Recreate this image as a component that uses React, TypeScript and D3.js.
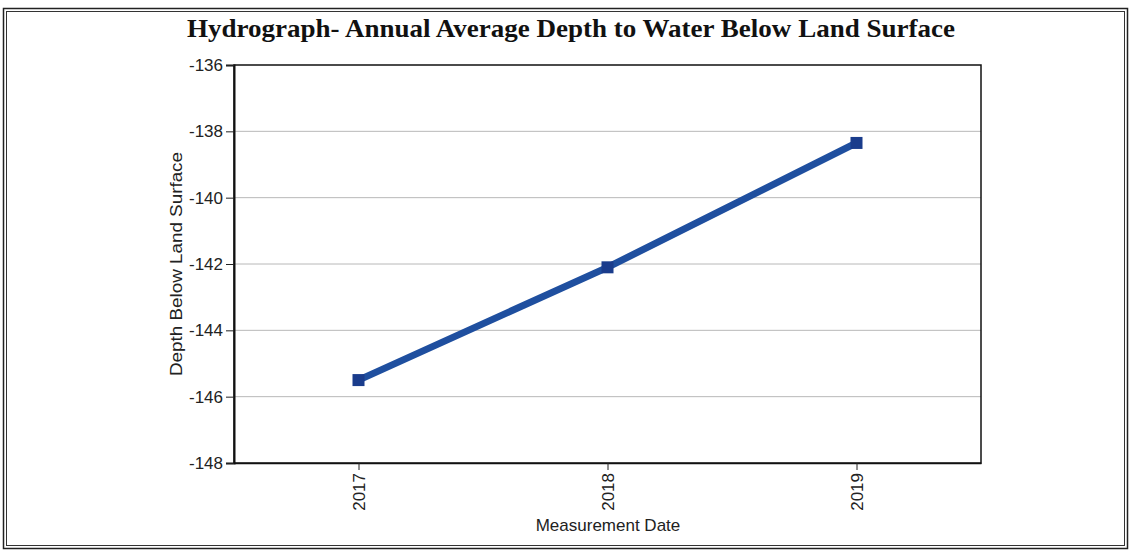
import React, { useEffect, useRef } from "react";
import * as d3 from "d3";

// Annual averages
const years = ["2017", "2018", "2019"];
const depths = [-145.5, -142.1, -138.35];
const yTicks = [-136, -138, -140, -142, -144, -146, -148];

const App = () => {
  const svgRef = useRef<SVGSVGElement>(null);

  useEffect(() => {
    const width = 1130;
    const height = 552;
    const margin = { top: 65, right: 149, bottom: 89, left: 234 };
    const innerW = width - margin.left - margin.right;
    const innerH = height - margin.top - margin.bottom;
    const sans = "'Liberation Sans', Arial, sans-serif";

    const svg = d3.select(svgRef.current);
    svg.selectAll("*").remove();
    svg.attr("width", width).attr("height", height).style("background", "#fff");

    // Scanned double frame
    svg
      .append("rect")
      .attr("x", 3.5)
      .attr("y", 8.5)
      .attr("width", width - 6)
      .attr("height", height - 12)
      .attr("fill", "none")
      .attr("stroke", "#222")
      .attr("stroke-width", 1.5);
    svg
      .append("rect")
      .attr("x", 6.5)
      .attr("y", 11.5)
      .attr("width", width - 12)
      .attr("height", height - 18)
      .attr("fill", "none")
      .attr("stroke", "#333")
      .attr("stroke-width", 1);

    // Title
    svg
      .append("text")
      .attr("x", 571)
      .attr("y", 37)
      .attr("text-anchor", "middle")
      .attr("textLength", 768)
      .attr("lengthAdjust", "spacingAndGlyphs")
      .style("font-family", "'Liberation Serif', 'Times New Roman', serif")
      .style("font-weight", "bold")
      .style("font-size", "25px")
      .style("fill", "#111")
      .text("Hydrograph- Annual Average Depth to Water Below Land Surface");

    const g = svg
      .append("g")
      .attr("transform", `translate(${margin.left},${margin.top})`);

    const x = d3.scalePoint().domain(years).range([0, innerW]).padding(0.5);
    const y = d3.scaleLinear().domain([-148, -136]).range([innerH, 0]);

    // Grid lines
    yTicks.forEach((t) => {
      if (t === -136 || t === -148) return;
      g.append("line")
        .attr("x1", 0)
        .attr("x2", innerW)
        .attr("y1", y(t))
        .attr("y2", y(t))
        .attr("stroke", "#b8b8b8")
        .attr("stroke-width", 1);
    });

    // Plot frame
    g.append("rect")
      .attr("x", 0)
      .attr("y", 0)
      .attr("width", innerW)
      .attr("height", innerH)
      .attr("fill", "none")
      .attr("stroke", "#111")
      .attr("stroke-width", 1.5);

    // Y axis
    const yAxis = g
      .append("g")
      .call(
        d3
          .axisLeft(y)
          .tickValues(yTicks)
          .tickSize(8)
          .tickPadding(3)
          .tickFormat((d) => `${d}`)
      );
    yAxis.select(".domain").attr("stroke", "#111").attr("stroke-width", 2);
    yAxis.selectAll(".tick line").attr("stroke", "#222");
    yAxis
      .selectAll("text")
      .style("font-family", sans)
      .style("font-size", "17px")
      .style("fill", "#222");

    // X axis
    const xAxis = g
      .append("g")
      .attr("transform", `translate(0,${innerH})`)
      .call(d3.axisBottom(x).tickSize(7).tickSizeOuter(0));
    xAxis.select(".domain").attr("stroke", "#111").attr("stroke-width", 1.5);
    xAxis.selectAll(".tick line").attr("stroke", "#222");
    xAxis
      .selectAll("text")
      .attr("transform", "rotate(-90)")
      .attr("x", -10)
      .attr("y", 0)
      .attr("dy", "0.35em")
      .style("text-anchor", "end")
      .style("font-family", sans)
      .style("font-size", "17px")
      .style("fill", "#222");

    // Axis titles
    svg
      .append("text")
      .attr("transform", `translate(182,${margin.top + innerH / 2}) rotate(-90)`)
      .attr("text-anchor", "middle")
      .attr("textLength", 224)
      .attr("lengthAdjust", "spacingAndGlyphs")
      .style("font-family", sans)
      .style("font-size", "16px")
      .style("fill", "#222")
      .text("Depth Below Land Surface");

    svg
      .append("text")
      .attr("x", 608)
      .attr("y", 531)
      .attr("text-anchor", "middle")
      .style("font-family", sans)
      .style("font-size", "17px")
      .style("fill", "#222")
      .text("Measurement Date");

    // Series
    const data = years.map((yr, i) => ({ yr, v: depths[i] }));
    const line = d3
      .line<{ yr: string; v: number }>()
      .x((d) => x(d.yr) as number)
      .y((d) => y(d.v));

    g.append("path")
      .datum(data)
      .attr("d", line)
      .attr("fill", "none")
      .attr("stroke", "#1f4f9f")
      .attr("stroke-width", 7);

    g.selectAll(".marker")
      .data(data)
      .enter()
      .append("rect")
      .attr("class", "marker")
      .attr("x", (d) => (x(d.yr) as number) - 6)
      .attr("y", (d) => y(d.v) - 6)
      .attr("width", 12)
      .attr("height", 12)
      .attr("fill", "#1a3c8c");
  }, []);

  return <svg ref={svgRef} style={{ position: "absolute", left: 0, top: 0 }} />;
};

export default App;
